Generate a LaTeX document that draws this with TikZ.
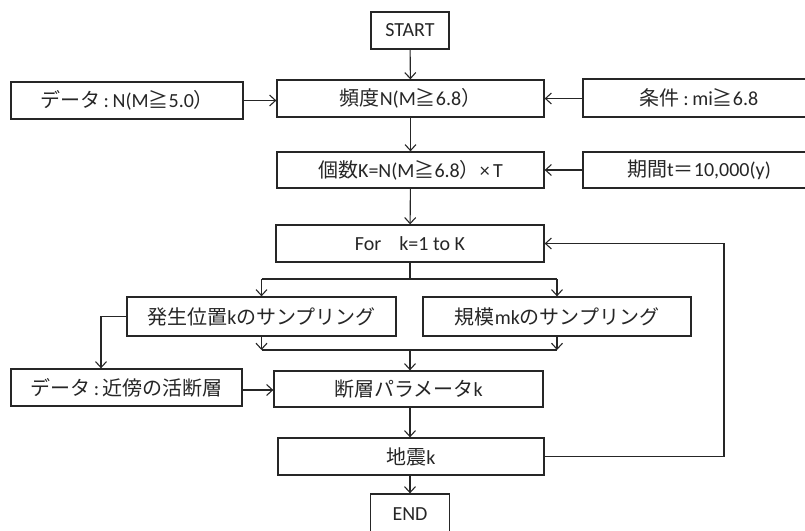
\documentclass[tikz,border=0pt]{standalone}
\usepackage{fontspec}
\setmainfont{Carlito}
\newfontfamily\jp{Noto Sans CJK JP}
\usetikzlibrary{arrows.meta}
\definecolor{ink}{HTML}{262626}
\newcommand{\cln}{\hspace{0.18em}:\hspace{0.18em}}
\tikzset{
  box/.style={draw=ink, line width=1.3pt, rectangle, inner sep=0pt, font=\fontsize{20}{23}\selectfont, text=ink},
  conn/.style={draw=ink, line width=1.1pt, -{Straight Barb[length=6pt,width=11pt,line width=1.1pt]}},
  line/.style={draw=ink, line width=1.1pt}
}
\begin{document}
\begin{tikzpicture}[x=1pt,y=-1pt]
\useasboundingbox (0,0) rectangle (805,530);
\clip (0,0) rectangle (805,530);
\node[box, minimum width=78pt, minimum height=37pt] (start) at (410,30.5) {START};
\node[box, minimum width=267pt, minimum height=37pt] (freq) at (410.5,98.5) {{\jp 頻度}N(M{\jp ≧}6.8{\jp ）}};
\node[box, minimum width=232pt, minimum height=37pt] (data1) at (127,100.5) {{\jp データ}\cln N(M{\jp ≧}5.0{\jp ）}};
\node[box, minimum width=232pt, minimum height=38pt] (cond) at (699,98) {{\jp 条件}\cln mi{\jp ≧}6.8};
\node[box, minimum width=267pt, minimum height=36pt] (count) at (410.5,170) {{\jp 個数}K=N(M{\jp ≧}6.8{\jp ）}×\,T};
\node[box, minimum width=232pt, minimum height=36pt] (period) at (699,170) {{\jp 期間}t{\jp ＝}10,000(y)};
\node[box, minimum width=268pt, minimum height=37pt] (for) at (410,243.5) {For\hspace{0.9em}k=1 to K};
\node[box, minimum width=269pt, minimum height=39pt] (loc) at (261.5,316.5) {{\jp 発生位置}k{\jp のサンプリング}};
\node[box, minimum width=268pt, minimum height=39pt] (scale) at (557,316.5) {{\jp 規模}mk{\jp のサンプリング}};
\node[box, minimum width=269pt, minimum height=36pt] (fault) at (408.5,389) {{\jp 断層パラメータ}k};
\node[box, minimum width=231pt, minimum height=37pt] (data2) at (126.5,387.5) {{\jp データ}\cln{\jp 近傍の活断層}};
\node[box, minimum width=266pt, minimum height=37pt] (quake) at (411,456.5) {{\jp 地震}k};
\node[box, minimum width=79pt, minimum height=41pt] (end) at (410,514.5) {END};
\coordinate (split) at (410,279);
\coordinate (merge) at (410,350);
\coordinate (loopc) at (724,0);
\coordinate (branch) at (101,0);
\draw[conn] (start) -- (freq);
\draw[conn] (data1.east) -- (data1.east -| freq.west);
\draw[conn] (cond.west |- freq.east) -- (freq.east);
\draw[conn] (freq) -- (count);
\draw[conn] (period.west |- count.east) -- (count.east);
\draw[conn] (count) -- (for);
\draw[line] (for.south) -- (split);
\draw[conn] (split -| loc.north) -- (loc.north);
\draw[conn] (split -| scale.north) -- (scale.north);
\draw[line] (split -| loc.north) -- (split -| scale.north);
\draw[line] (merge -| loc.south) -- (merge -| scale.south);
\draw[conn] (loc.south) -- (merge -| loc.south);
\draw[conn] (scale.south) -- (merge -| scale.south);
\draw[conn] (merge) -- (merge |- fault.north);
\draw[conn] (loc.west) -| (branch |- data2.north);
\draw[conn] (data2.east |- 0,390) -- (fault.west |- 0,390);
\draw[conn] (fault.south -| 410,0) -- (quake.north -| 410,0);
\draw[conn] (quake.east) -| (loopc |- for.east) -- (for.east);
\draw[conn] (quake.south -| 410,0) -- (end.north -| 410,0);
\end{tikzpicture}
\end{document}
